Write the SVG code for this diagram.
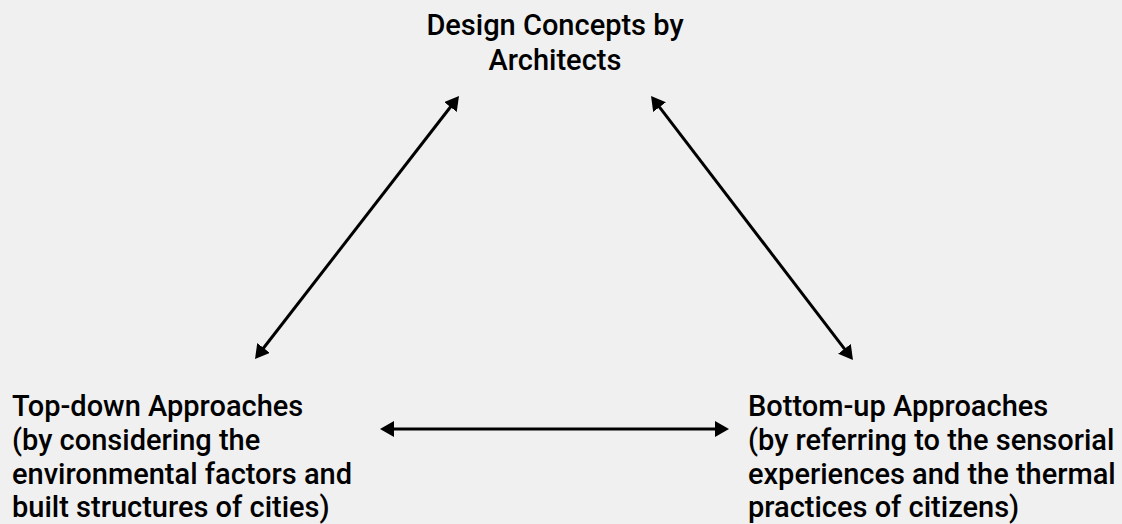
<svg xmlns="http://www.w3.org/2000/svg" width="1122" height="524" viewBox="0 0 1122 524">
  <style>
    .lbl { font-family: Roboto, "Liberation Sans", Arial, sans-serif; font-weight: 500; font-size: 29px; fill: #000; }
    .conn { stroke: #000; stroke-width: 3; fill: none; marker-start: url(#ah); marker-end: url(#ah); }
  </style>
  <defs>
    <marker id="ah" viewBox="0 0 14 16" refX="7" refY="8" markerWidth="14" markerHeight="16" markerUnits="userSpaceOnUse" orient="auto-start-reverse">
      <path d="M0,0 L14,8 L0,16 Z" fill="#000"/>
    </marker>
  </defs>
  <rect width="1122" height="524" fill="#f0f0f0"/>
  <g id="connectors">
    <line class="conn" x1="259.3" y1="353.5" x2="454.7" y2="101.5"/>
    <line class="conn" x1="655.3" y1="101.6" x2="848.7" y2="354.4"/>
    <line class="conn" x1="387" y1="429" x2="722" y2="429"/>
  </g>
  <g id="node-design">
    <text class="lbl" x="555" y="35" text-anchor="middle">Design Concepts by</text>
    <text class="lbl" x="555" y="70" text-anchor="middle">Architects</text>
  </g>
  <g id="node-topdown">
    <text class="lbl" x="12" y="416">Top-down Approaches</text>
    <text class="lbl" x="12" y="450">(by considering the</text>
    <text class="lbl" x="12" y="483.5">environmental factors and</text>
    <text class="lbl" x="12" y="517">built structures of cities)</text>
  </g>
  <g id="node-bottomup">
    <text class="lbl" x="748" y="416">Bottom-up Approaches</text>
    <text class="lbl" x="748" y="450">(by referring to the sensorial</text>
    <text class="lbl" x="748" y="483.5">experiences and the thermal</text>
    <text class="lbl" x="748" y="517">practices of citizens)</text>
  </g>
</svg>
